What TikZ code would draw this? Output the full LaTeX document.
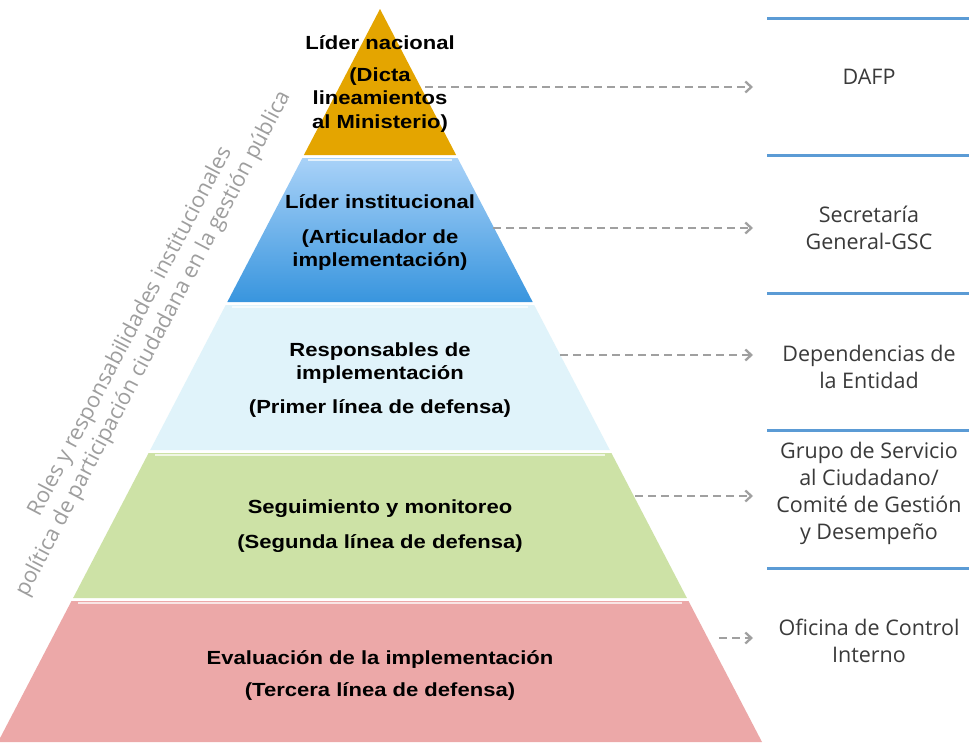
\documentclass[tikz,border=0pt]{standalone}
\usepackage{fontspec}
\setmainfont{Open Sans}
\newfontfamily\pyrfont[FakeStretch=1.16]{Liberation Sans}
\usetikzlibrary{arrows.meta}
\definecolor{gold}{HTML}{E4A500}
\definecolor{blueTop}{HTML}{A9D2F8}
\definecolor{blueBot}{HTML}{3895DE}
\definecolor{lblue}{HTML}{E0F3FA}
\definecolor{lgreen}{HTML}{CDE2A6}
\definecolor{lpink}{HTML}{ECA8A8}
\definecolor{rulecol}{HTML}{5B9BD5}
\definecolor{arrowgray}{HTML}{A0A0A0}
\definecolor{sidetext}{HTML}{3A3A3A}
\definecolor{rotgray}{HTML}{9E9E9E}
\tikzset{
  ptitle/.style={font=\pyrfont\bfseries\fontsize{19}{23.5}\selectfont, align=center, inner sep=0pt, text=black},
  rtext/.style={font=\fontsize{21.5}{27}\selectfont, text=sidetext, align=center, inner sep=0pt},
  rotlabel/.style={font=\fontsize{21.8}{26}\selectfont, text=rotgray, align=center, inner sep=0pt, rotate=62.3},
  hrule/.style={draw=rulecol, line width=3pt},
  darrow/.style={draw=arrowgray, line width=2.8pt, dash pattern=on 8pt off 5pt, -{Straight Barb[length=6pt,width=11pt,line width=2.3pt]}},
  hilite/.style={draw=white, line width=2pt, opacity=0.7}
}
\begin{document}
\begin{tikzpicture}[x=1pt,y=-1pt]
\useasboundingbox (0,0) rectangle (969,742);
\fill[white] (0,0) rectangle (969,742);
% pyramid bands
\fill[gold] (380,9) -- (456.1,155) -- (303.9,155) -- cycle;
\shade[top color=blueTop, bottom color=blueBot] (302.4,158) -- (457.6,158) -- (532.7,302) -- (227.3,302) -- cycle;
\fill[lblue] (225.7,305) -- (534.2,305) -- (609.8,450) -- (150.2,450) -- cycle;
\fill[lgreen] (148.6,453) -- (611.4,453) -- (686.9,598) -- (73.1,598) -- cycle;
\fill[lpink] (71.5,601) -- (688.5,601) -- (762,742) -- (-2,742) -- cycle;
% top highlights
\draw[hilite] (308,160) -- (452,160);
\draw[hilite] (232,307) -- (528,307);
\draw[hilite] (155,455) -- (605,455);
\draw[hilite] (78,603) -- (682,603);
% pyramid texts
\node[ptitle] (t1) at (380,43) {Líder nacional};
\node[ptitle] (s1) at (380,100) {(Dicta\\lineamientos\\al Ministerio)};
\node[ptitle] (t2) at (380,202) {Líder institucional};
\node[ptitle] (s2) at (380,250) {(Articulador de\\implementación)};
\node[ptitle] (t3) at (380,363) {Responsables de\\implementación};
\node[ptitle] (s3) at (380,408) {(Primer línea de defensa)};
\node[ptitle] (t4) at (380,509) {Seguimiento y monitoreo};
\node[ptitle] (s4) at (380,544) {(Segunda línea de defensa)};
\node[ptitle] (t5) at (380,659) {Evaluación de la implementación};
\node[ptitle] (s5) at (380,691) {(Tercera línea de defensa)};
% rotated label
\node[rotlabel] (rot) at (142,338) {Roles y responsabilidades institucionales\\política de participación ciudadana en la gestión pública};
% right side rules
\draw[hrule] (767,18) coordinate (r0a) -- (969,18) coordinate (r0b);
\draw[hrule] (767,155) coordinate (r1a) -- (969,155) coordinate (r1b);
\draw[hrule] (767,293) coordinate (r2a) -- (969,293) coordinate (r2b);
\draw[hrule] (767,430) coordinate (r3a) -- (969,430) coordinate (r3b);
\draw[hrule] (767,568) coordinate (r4a) -- (969,568) coordinate (r4b);
% right texts
\node[rtext] (e1) at (869,77) {DAFP};
\node[rtext] (e2) at (869,228) {Secretaría\\General-GSC};
\node[rtext] (e3) at (869,367) {Dependencias de\\la Entidad};
\node[rtext] (e4) at (869,493) {Grupo de Servicio\\al Ciudadano/\\Comité de Gestión\\y Desempeño};
\node[rtext] (e5) at (869,641) {Oficina de Control\\Interno};
% arrows
\coordinate (a1s) at (425,87);  \coordinate (a1e) at (753,87);
\coordinate (a2s) at (493,228); \coordinate (a2e) at (753,228);
\coordinate (a3s) at (560,355); \coordinate (a3e) at (753,355);
\coordinate (a4s) at (635,496); \coordinate (a4e) at (753,496);
\coordinate (a5s) at (719,638); \coordinate (a5e) at (753,638);
\draw[darrow] (a1s) -- (a1e);
\draw[darrow] (a2s) -- (a2e);
\draw[darrow] (a3s) -- (a3e);
\draw[darrow] (a4s) -- (a4e);
\draw[darrow] (a5s) -- (a5e);
\end{tikzpicture}
\end{document}
